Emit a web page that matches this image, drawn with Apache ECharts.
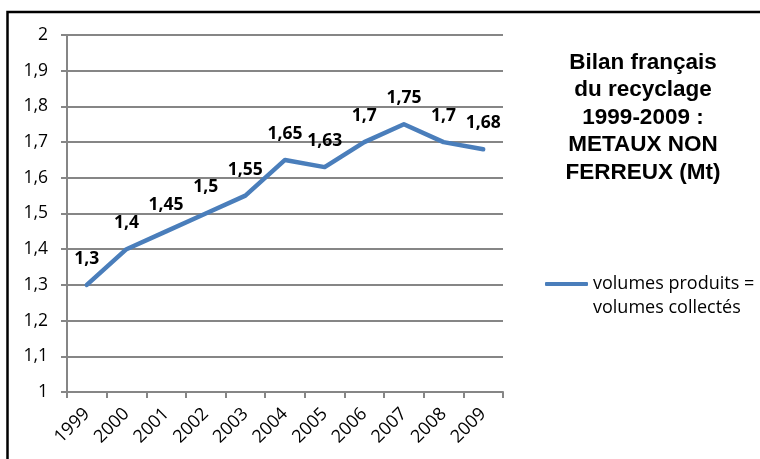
<!DOCTYPE html>
<html>
<head>
<meta charset="utf-8">
<script src="https://cdn.jsdelivr.net/npm/echarts@6/dist/echarts.min.js"></script>
<style>html,body{margin:0;padding:0;background:#fff}#c{width:760px;height:459px}</style>
</head>
<body>
<div id="c"></div>
<script>
const years = ['1999','2000','2001','2002','2003','2004','2005','2006','2007','2008','2009'];
const volumes = [1.3, 1.4, 1.45, 1.5, 1.55, 1.65, 1.63, 1.7, 1.75, 1.7, 1.68];
const seriesName = 'volumes produits =\nvolumes collectés';
const titleLines = ['Bilan français', 'du recyclage', '1999-2009 :', 'METAUX NON', 'FERREUX (Mt)'];
const yMin = 1, yMax = 2, yStep = 0.1;

const fr = v => String(Math.round(v * 100) / 100).replace('.', ',');
const chart = echarts.init(document.getElementById('c'), null, {renderer: 'canvas'});
chart.setOption({
  animation: false,
  backgroundColor: '#fff',
  graphic: [{
    type: 'rect', shape: {x: 7.5, y: 12, width: 900, height: 600},
    style: {fill: 'none', stroke: '#000', lineWidth: 2.5}, silent: true
  }],
  title: {
    text: titleLines.join('\n'),
    left: 638, top: 44, textAlign: 'center',
    textStyle: {fontFamily: 'Liberation Sans', fontWeight: 'bold', fontSize: 22.5, lineHeight: 27.5, color: '#000'}
  },
  legend: {
    left: 545, top: 248, padding: 0, orient: 'vertical',
    icon: 'roundRect', itemWidth: 43, itemHeight: 4, itemGap: 5,
    formatter: n => ' \n' + n,
    textStyle: {fontFamily: 'Open Sans', fontSize: 18, lineHeight: 24, color: '#000'},
    data: [seriesName]
  },
  grid: {left: 67, right: 257, top: 35, bottom: 67, containLabel: false},
  xAxis: {
    type: 'category', data: years, boundaryGap: true,
    axisLine: {lineStyle: {color: '#868686', width: 2}},
    axisTick: {show: true, length: 6, alignWithLabel: false, lineStyle: {color: '#868686', width: 2}},
    axisLabel: {rotate: 45, margin: 19, interval: 0, fontFamily: 'Open Sans', fontSize: 18, color: '#000'}
  },
  yAxis: {
    type: 'value', min: yMin, max: yMax, interval: yStep,
    axisLine: {show: true, lineStyle: {color: '#868686', width: 2}},
    axisTick: {show: true, length: 6, lineStyle: {color: '#868686', width: 2}},
    splitLine: {lineStyle: {color: '#868686', width: 2}},
    axisLabel: {margin: 19, fontFamily: 'Open Sans', fontSize: 17.5, color: '#000', formatter: v => fr(v)}
  },
  series: [{
    name: seriesName, type: 'line', data: volumes,
    symbol: 'circle', symbolSize: 0.1, showSymbol: true,
    lineStyle: {color: '#4a7ebb', width: 4.5, cap: 'round', join: 'round'},
    itemStyle: {color: '#4a7ebb'},
    label: {show: true, position: 'top', distance: 17, fontFamily: 'Open Sans', fontWeight: 'bold', fontSize: 17.5, color: '#000',
      formatter: p => fr(p.value)}
  }]
});
</script>
</body>
</html>
